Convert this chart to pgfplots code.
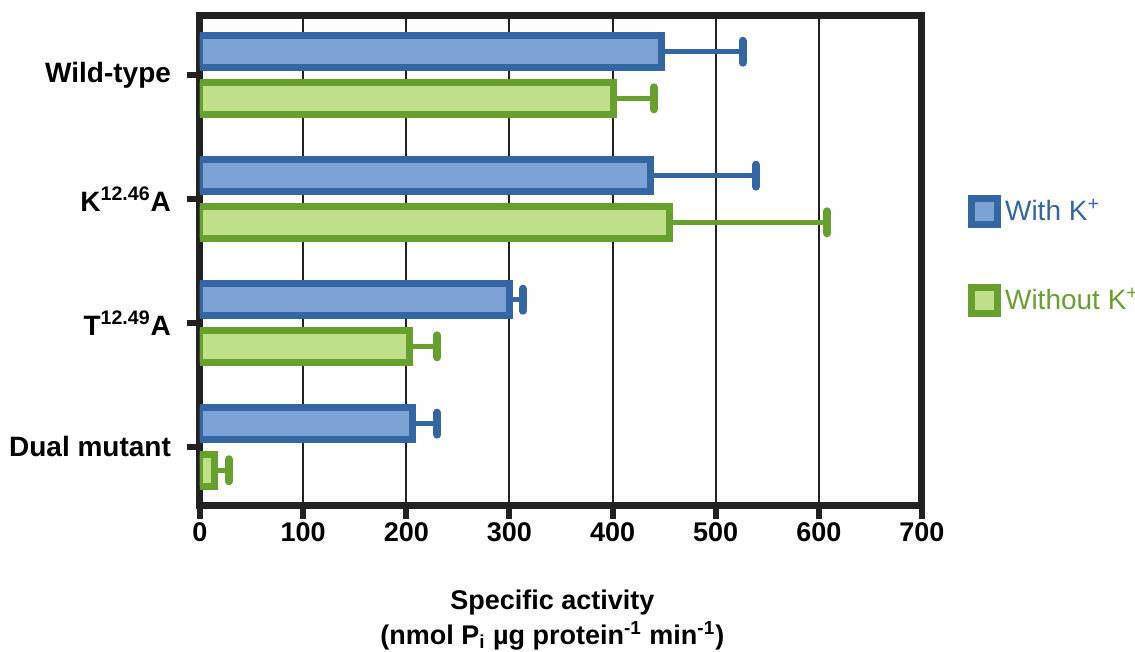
\documentclass[border=0pt]{standalone}
\usepackage{pgfplots}
\pgfplotsset{compat=1.18}
\usepackage{fontspec}
\setmainfont{Liberation Sans}
\definecolor{bedge}{HTML}{3366A2}
\definecolor{bfill}{HTML}{7DA2D5}
\definecolor{gedge}{HTML}{68A02E}
\definecolor{gfill}{HTML}{BFDF88}
\definecolor{axc}{HTML}{222222}
\begin{document}
\begin{tikzpicture}
\path[use as bounding box] (0,0) rectangle (567.5pt,326pt);
\begin{axis}[
  at={(100pt,73pt)}, anchor=south west,
  scale only axis, width=361pt, height=245pt,
  xbar, bar width=0.258,
  xmin=0, xmax=700,
  ymin=-0.476, ymax=3.476,
  ytick={0,1,2,3},
  yticklabels={Dual mutant, T\textsuperscript{12.49}A, K\textsuperscript{12.46}A, Wild-type},
  xtick={0,100,...,700},
  xmajorgrids, grid style={line width=1pt, color=axc},
  axis line style={line width=3.5pt, color=axc},
  tick style={line width=3pt, color=axc},
  tick align=outside, major tick length=6.5pt,
  xtick pos=bottom, ytick pos=left,
  /pgf/number format/assume math mode=true,
  xticklabel style={font=\fontsize{13.5}{15}\selectfont\bfseries, yshift=1.5pt},
  yticklabel style={font=\fontsize{14}{16}\selectfont\bfseries, xshift=-4.5pt},
  xlabel={Specific activity\\(nmol P\textsubscript{i} µg protein\textsuperscript{-1} min\textsuperscript{-1})},
  xlabel style={align=center, font=\fontsize{13.5}{17.5}\selectfont\bfseries,
    at={(axis description cs:0.488,0)}, anchor=north, yshift=-38.5pt},
  legend style={at={(axis description cs:1.055,0.51)}, anchor=west, draw=none, fill=none,
    row sep=28pt, font=\fontsize{14}{16}\selectfont},
  legend cell align=left,
  legend image code/.code={\draw[#1, line width=3.5pt] (0pt,-6.5pt) rectangle (13pt,6.5pt);},
]
\addplot[draw=bedge, fill=bfill, line width=3.5pt, bar shift=0.188,
  error bars/.cd, x dir=plus, x explicit,
  error bar style={line width=2.5pt, color=bedge},
  error mark options={line width=4pt, mark size=5.5pt, color=bedge, line cap=round, rotate=90}]
  coordinates {(447,3) +- (79,0) (437,2) +- (102,0) (300,1) +- (13,0) (206,0) +- (24,0)};
\addplot[draw=gedge, fill=gfill, line width=3.5pt, bar shift=-0.188,
  error bars/.cd, x dir=plus, x explicit,
  error bar style={line width=2.5pt, color=gedge},
  error mark options={line width=4pt, mark size=5.5pt, color=gedge, line cap=round, rotate=90}]
  coordinates {(401,3) +- (39,0) (455,2) +- (153,0) (203,1) +- (27,0) (14,0) +- (14,0)};
\legend{\textcolor{bedge}{With K\textsuperscript{+}}, \textcolor{gedge}{Without K\textsuperscript{+}}}
\end{axis}
\end{tikzpicture}
\end{document}
